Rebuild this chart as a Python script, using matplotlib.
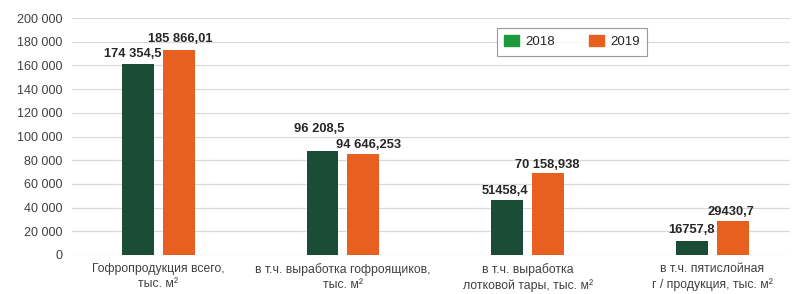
import matplotlib
matplotlib.use("Agg")
from matplotlib import pyplot as plt
from matplotlib.patches import Patch
import numpy as np

plt.rcParams['font.family'] = ['Liberation Sans', 'DejaVu Sans']

categories = ["Гофропродукция всего,\nтыс. м²",
              "в т.ч. выработка гофроящиков,\nтыс. м²",
              "в т.ч. выработка\nлотковой тары, тыс. м²",
              "в т.ч. пятислойная\nг / продукция, тыс. м²"]
# bar heights as drawn in the picture
vals_2018 = [161000, 87500, 46400, 11800]
vals_2019 = [172700, 85200, 68900, 29000]
# value labels as printed
labels_2018 = ["174 354,5", "96 208,5", "51458,4", "16757,8"]
labels_2019 = ["185 866,01", "94 646,253", "70 158,938", "29430,7"]
yticks = [0, 20000, 40000, 60000, 80000, 100000, 120000, 140000, 160000, 180000, 200000]

green = "#1b4d36"
orange = "#e8601f"

fig = plt.figure(figsize=(8.05, 2.94), dpi=100)
ax = fig.add_axes([0.0894, 0.1327, 0.8916, 0.806])

x = np.arange(len(categories))
w = 0.173
off = 0.111
b1 = ax.bar(x - off, vals_2018, w, color=green, zorder=3)
b2 = ax.bar(x + off, vals_2019, w, color=orange, zorder=3)

# label offsets (pixels): dx, dy from bar top centre to text baseline
off18 = [(-5, 7), (-3, 19), (-2, 6), (0, 8)]
off19 = [(1, 8), (5, 6), (-1, 5), (-2, 6)]
for bars, labs, offs in [(b1, labels_2018, off18), (b2, labels_2019, off19)]:
    for rect, lab, (dx, dy) in zip(bars, labs, offs):
        ax.annotate(lab, (rect.get_x() + rect.get_width() / 2, rect.get_height()),
                    xytext=(dx, dy), textcoords='offset pixels',
                    ha='center', va='baseline', fontsize=9.3, fontweight='bold',
                    color='#262626')

ax.set_xlim(-0.468, 3.42)
ax.set_ylim(0, 200000)
ax.set_yticks(yticks)
ax.set_yticklabels([f"{v:,}".replace(",", " ") for v in yticks], fontsize=9, color='#404040')
ax.set_xticks(x)
ax.set_xticklabels(categories, fontsize=8.8, color='#404040', linespacing=1.25)
ax.tick_params(axis='both', length=0)
ax.tick_params(axis='x', pad=6)
ax.tick_params(axis='y', pad=7)
ax.grid(axis='y', color='#d9d9d9', linewidth=0.9, zorder=0)
for s in ax.spines.values():
    s.set_visible(False)

leg = ax.legend(handles=[Patch(color="#1e9a3c", label="2018"), Patch(color=orange, label="2019")],
                ncol=2, loc='upper left', bbox_to_anchor=(0.592, 0.958), fontsize=9.5,
                frameon=True, fancybox=False, edgecolor='#808080', handlelength=1.1,
                handleheight=0.9, handletextpad=0.5, columnspacing=2.6, borderpad=0.55,
                borderaxespad=0)
leg.get_frame().set_linewidth(0.8)
for t in leg.get_texts():
    t.set_color('#262626')

plt.savefig("out.png", dpi=100)
